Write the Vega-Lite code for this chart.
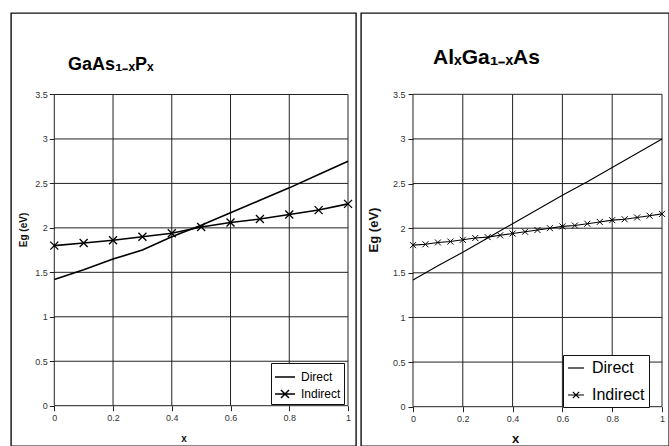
{
  "$schema": "https://vega.github.io/schema/vega-lite/v6.json",
  "background": "white",
  "padding": {"left": 10, "top": 12, "right": 0, "bottom": 0},
  "spacing": 3,
  "config": {
    "font": "Liberation Sans",
    "view": {"stroke": "#111", "strokeWidth": 1.4},
    "axis": {
      "grid": false, "domain": false, "ticks": true, "tickSize": 5, "tickColor": "#222",
      "labelFontSize": 9, "labelColor": "#333", "labelFlush": false, "labelOverlap": false,
      "format": "~g", "titleFontWeight": "bold", "titleColor": "#111"
    }
  },
  "datasets": {
    "xgrid": [{"x": 0}, {"x": 0.2}, {"x": 0.4}, {"x": 0.6}, {"x": 0.8}, {"x": 1}],
    "ygrid": [{"eg": 0}, {"eg": 0.5}, {"eg": 1}, {"eg": 1.5}, {"eg": 2}, {"eg": 2.5}, {"eg": 3}, {"eg": 3.5}],
    "gaasp": [
      {"x": 0, "eg": 1.42, "series": "Direct"},
      {"x": 0.1, "eg": 1.53, "series": "Direct"},
      {"x": 0.2, "eg": 1.65, "series": "Direct"},
      {"x": 0.3, "eg": 1.75, "series": "Direct"},
      {"x": 0.4, "eg": 1.9, "series": "Direct"},
      {"x": 0.5, "eg": 2.03, "series": "Direct"},
      {"x": 0.6, "eg": 2.17, "series": "Direct"},
      {"x": 0.7, "eg": 2.31, "series": "Direct"},
      {"x": 0.8, "eg": 2.45, "series": "Direct"},
      {"x": 0.9, "eg": 2.6, "series": "Direct"},
      {"x": 1, "eg": 2.75, "series": "Direct"},
      {"x": 0, "eg": 1.8, "series": "Indirect"},
      {"x": 0.1, "eg": 1.83, "series": "Indirect"},
      {"x": 0.2, "eg": 1.86, "series": "Indirect"},
      {"x": 0.3, "eg": 1.9, "series": "Indirect"},
      {"x": 0.4, "eg": 1.94, "series": "Indirect"},
      {"x": 0.5, "eg": 2.01, "series": "Indirect"},
      {"x": 0.6, "eg": 2.06, "series": "Indirect"},
      {"x": 0.7, "eg": 2.1, "series": "Indirect"},
      {"x": 0.8, "eg": 2.15, "series": "Indirect"},
      {"x": 0.9, "eg": 2.2, "series": "Indirect"},
      {"x": 1, "eg": 2.27, "series": "Indirect"}
    ],
    "algaas": [
      {"x": 0, "eg": 1.42, "series": "Direct"},
      {"x": 0.1, "eg": 1.58, "series": "Direct"},
      {"x": 0.2, "eg": 1.73, "series": "Direct"},
      {"x": 0.3, "eg": 1.89, "series": "Direct"},
      {"x": 0.4, "eg": 2.05, "series": "Direct"},
      {"x": 0.5, "eg": 2.21, "series": "Direct"},
      {"x": 0.6, "eg": 2.37, "series": "Direct"},
      {"x": 0.7, "eg": 2.52, "series": "Direct"},
      {"x": 0.8, "eg": 2.68, "series": "Direct"},
      {"x": 0.9, "eg": 2.84, "series": "Direct"},
      {"x": 1, "eg": 3.0, "series": "Direct"},
      {"x": 0, "eg": 1.81, "series": "Indirect"},
      {"x": 0.05, "eg": 1.82, "series": "Indirect"},
      {"x": 0.1, "eg": 1.84, "series": "Indirect"},
      {"x": 0.15, "eg": 1.85, "series": "Indirect"},
      {"x": 0.2, "eg": 1.87, "series": "Indirect"},
      {"x": 0.25, "eg": 1.89, "series": "Indirect"},
      {"x": 0.3, "eg": 1.9, "series": "Indirect"},
      {"x": 0.35, "eg": 1.92, "series": "Indirect"},
      {"x": 0.4, "eg": 1.94, "series": "Indirect"},
      {"x": 0.45, "eg": 1.96, "series": "Indirect"},
      {"x": 0.5, "eg": 1.98, "series": "Indirect"},
      {"x": 0.55, "eg": 2.0, "series": "Indirect"},
      {"x": 0.6, "eg": 2.02, "series": "Indirect"},
      {"x": 0.65, "eg": 2.03, "series": "Indirect"},
      {"x": 0.7, "eg": 2.05, "series": "Indirect"},
      {"x": 0.75, "eg": 2.07, "series": "Indirect"},
      {"x": 0.8, "eg": 2.09, "series": "Indirect"},
      {"x": 0.85, "eg": 2.1, "series": "Indirect"},
      {"x": 0.9, "eg": 2.12, "series": "Indirect"},
      {"x": 0.95, "eg": 2.14, "series": "Indirect"},
      {"x": 1, "eg": 2.16, "series": "Indirect"}
    ]
  },
  "resolve": {
    "scale": {"x": "independent", "y": "independent", "color": "independent"},
    "axis": {"x": "independent", "y": "independent"},
    "legend": {"color": "independent"}
  },
  "hconcat": [
    {
      "width": 345,
      "height": 433,
      "layer": [
        {
          "data": {"name": "xgrid"},
          "mark": {"type": "rule", "color": "#222", "strokeWidth": 1},
          "encoding": {
            "x": {"field": "x", "type": "quantitative", "scale": {"domain": [-0.1474, 1.0272], "nice": false, "zero": false}},
            "y": {"datum": 0, "type": "quantitative", "scale": {"domain": [-0.4533, 4.4166], "nice": false, "zero": false}},
            "y2": {"datum": 3.5}
          }
        },
        {
          "data": {"name": "ygrid"},
          "mark": {"type": "rule", "color": "#222", "strokeWidth": 1},
          "encoding": {
            "y": {"field": "eg", "type": "quantitative", "scale": {"domain": [-0.4533, 4.4166], "nice": false, "zero": false}},
            "x": {"datum": 0, "type": "quantitative", "scale": {"domain": [-0.1474, 1.0272], "nice": false, "zero": false}},
            "x2": {"datum": 1}
          }
        },
        {
          "data": {"name": "gaasp"},
          "mark": {"type": "line", "strokeWidth": 1.6},
          "encoding": {
            "x": {
              "field": "x", "type": "quantitative",
              "scale": {"domain": [-0.1474, 1.0272], "nice": false, "zero": false},
              "axis": {"values": [0, 0.2, 0.4, 0.6, 0.8, 1], "offset": -40.3, "title": "x", "titleFontSize": 10, "titlePadding": 11, "labelPadding": 3}
            },
            "y": {
              "field": "eg", "type": "quantitative",
              "scale": {"domain": [-0.4533, 4.4166], "nice": false, "zero": false},
              "axis": {"values": [0, 0.5, 1, 1.5, 2, 2.5, 3, 3.5], "offset": -43.3, "title": "Eg (eV)", "titleFontSize": 10, "titlePadding": 6, "labelPadding": 2}
            },
            "color": {
              "field": "series", "type": "nominal",
              "scale": {"domain": ["Direct", "Indirect"], "range": ["black", "black"]},
              "legend": {
                "orient": "none", "legendX": 260, "legendY": 350, "title": null,
                "strokeColor": "#111", "fillColor": "white", "padding": 3,
                "rowPadding": 0, "symbolSize": 400, "symbolStrokeWidth": 1.5,
                "symbolStrokeColor": "black", "symbolFillColor": "transparent",
                "labelFontSize": 12, "labelColor": "black", "labelOffset": 5,
                "encode": {
                  "symbols": {
                    "update": {
                      "shape": {"signal": "datum.value === 'Indirect' ? 'M-1,0L1,0M-0.4,-0.4L0.4,0.4M-0.4,0.4L0.4,-0.4' : 'M-1,0L1,0'"},
                      "stroke": {"value": "black"},
                      "fill": {"value": "transparent"}
                    }
                  }
                }
              }
            }
          }
        },
        {
          "data": {"name": "gaasp"},
          "transform": [{"filter": "datum.series === 'Indirect'"}],
          "mark": {"type": "point", "shape": "M-1,-1L1,1M-1,1L1,-1", "size": 64, "filled": false, "color": "black", "strokeWidth": 1.3, "opacity": 1},
          "encoding": {
            "x": {"field": "x", "type": "quantitative", "scale": {"domain": [-0.1474, 1.0272], "nice": false, "zero": false}},
            "y": {"field": "eg", "type": "quantitative", "scale": {"domain": [-0.4533, 4.4166], "nice": false, "zero": false}}
          }
        },
        {
          "data": {"values": [{"label": "GaAs₁₋ₓPₓ"}]},
          "mark": {"type": "text", "align": "left", "baseline": "alphabetic", "fontSize": 18, "fontWeight": "bold", "font": "Liberation Sans", "color": "black"},
          "encoding": {
            "text": {"field": "label"},
            "x": {"datum": 0.0466, "type": "quantitative"},
            "y": {"datum": 3.775, "type": "quantitative"}
          }
        }
      ]
    },
    {
      "width": 308,
      "height": 433,
      "layer": [
        {
          "data": {"name": "xgrid"},
          "mark": {"type": "rule", "color": "#222", "strokeWidth": 1},
          "encoding": {
            "x": {"field": "x", "type": "quantitative", "scale": {"domain": [-0.2088, 1.0281], "nice": false, "zero": false}},
            "y": {"datum": 0, "type": "quantitative", "scale": {"domain": [-0.4403, 4.4109], "nice": false, "zero": false}},
            "y2": {"datum": 3.5}
          }
        },
        {
          "data": {"name": "ygrid"},
          "mark": {"type": "rule", "color": "#222", "strokeWidth": 1},
          "encoding": {
            "y": {"field": "eg", "type": "quantitative", "scale": {"domain": [-0.4403, 4.4109], "nice": false, "zero": false}},
            "x": {"datum": 0, "type": "quantitative", "scale": {"domain": [-0.2088, 1.0281], "nice": false, "zero": false}},
            "x2": {"datum": 1}
          }
        },
        {
          "data": {"name": "algaas"},
          "mark": {"type": "line", "strokeWidth": 1.1},
          "encoding": {
            "x": {
              "field": "x", "type": "quantitative",
              "scale": {"domain": [-0.2088, 1.0281], "nice": false, "zero": false},
              "axis": {"values": [0, 0.2, 0.4, 0.6, 0.8, 1], "offset": -39.3, "title": "x", "titleFontSize": 13, "titlePadding": 9, "labelPadding": 3}
            },
            "y": {
              "field": "eg", "type": "quantitative",
              "scale": {"domain": [-0.4403, 4.4109], "nice": false, "zero": false},
              "axis": {"values": [0, 0.5, 1, 1.5, 2, 2.5, 3, 3.5], "offset": -52, "title": "Eg (eV)", "titleFontSize": 13, "titlePadding": 12, "labelPadding": 3}
            },
            "color": {
              "field": "series", "type": "nominal",
              "scale": {"domain": ["Direct", "Indirect"], "range": ["black", "black"]},
              "legend": {
                "orient": "none", "legendX": 202, "legendY": 342, "title": null,
                "strokeColor": "#111", "fillColor": "white", "padding": 4,
                "rowPadding": 10, "symbolSize": 256, "symbolStrokeWidth": 1.2,
                "symbolStrokeColor": "black", "symbolFillColor": "transparent",
                "labelFontSize": 16, "labelColor": "black", "labelOffset": 7,
                "encode": {
                  "symbols": {
                    "update": {
                      "shape": {"signal": "datum.value === 'Indirect' ? 'M-1,0L1,0M-0.4,-0.4L0.4,0.4M-0.4,0.4L0.4,-0.4' : 'M-1,0L1,0'"},
                      "stroke": {"value": "black"},
                      "fill": {"value": "transparent"}
                    }
                  }
                }
              }
            }
          }
        },
        {
          "data": {"name": "algaas"},
          "transform": [{"filter": "datum.series === 'Indirect'"}],
          "mark": {"type": "point", "shape": "M-1,-1L1,1M-1,1L1,-1", "size": 36, "filled": false, "color": "black", "strokeWidth": 1, "opacity": 1},
          "encoding": {
            "x": {"field": "x", "type": "quantitative", "scale": {"domain": [-0.2088, 1.0281], "nice": false, "zero": false}},
            "y": {"field": "eg", "type": "quantitative", "scale": {"domain": [-0.4403, 4.4109], "nice": false, "zero": false}}
          }
        },
        {
          "data": {"values": [{"label": "AlₓGa₁₋ₓAs"}]},
          "mark": {"type": "text", "align": "left", "baseline": "alphabetic", "fontSize": 21, "fontWeight": "bold", "font": "Liberation Sans", "color": "black"},
          "encoding": {
            "text": {"field": "label"},
            "x": {"datum": 0.0803, "type": "quantitative"},
            "y": {"datum": 3.839, "type": "quantitative"}
          }
        }
      ]
    }
  ]
}
